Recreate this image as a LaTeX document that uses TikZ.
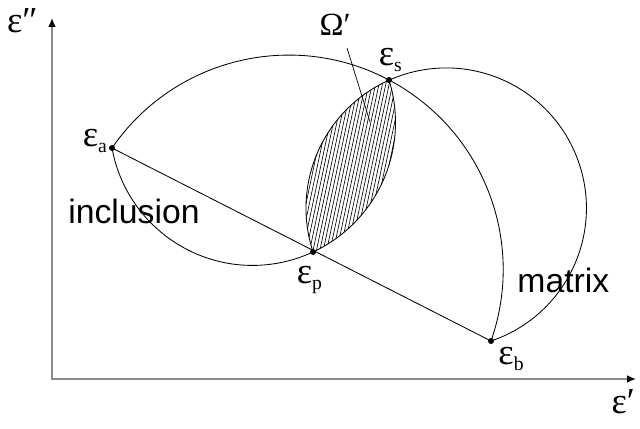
\documentclass[tikz,border=0pt]{standalone}
\usepackage{fontspec}
\setmainfont{Liberation Serif}
\newfontfamily\labelsans{Liberation Sans}
\usetikzlibrary{arrows.meta, positioning, calc}

\newcommand{\epsl}[1]{ε\raisebox{-0.35ex}{\fontsize{14}{14}\selectfont #1}}

\begin{document}
\begin{tikzpicture}[
axis/.style={draw=black!45, line width=1.2pt, {Latex[length=2.2mm, width=1.9mm, color=black]}-{Latex[length=2.2mm, width=1.9mm, color=black]}},
curve/.style={line width=0.6pt},
dot/.style={fill=black},
lbl/.style={inner sep=0pt, font=\fontsize{26}{30}\selectfont},
region/.style={inner sep=0pt, font=\labelsans\fontsize{24}{28}\selectfont},
hatch/.style={line width=0.45pt}
]
\useasboundingbox (0,0) rectangle (16,10.7);

% --- Axes ---
\coordinate (O) at (1.3,1.225);
\coordinate (ytip) at (1.3,10.25);
\coordinate (xtip) at (15.9,1.225);
\draw[axis] (ytip) -- (O) -- (xtip);

% --- Points ---
\coordinate (pa) at (2.8,7.0);
\coordinate (ps) at (9.725,8.7);
\coordinate (pp) at (7.825,4.4);
\coordinate (pb) at (12.275,2.175);

% --- Zone hachuree (Omega') ---
\begin{scope}
\clip (pp) arc[start angle=-64.99, end angle=17.31, radius=3.5725]
           arc[start angle=114.07, end angle=198.24, radius=3.505] -- cycle;
\foreach \k in {0,...,45}
  \draw[hatch] ($(6.5,4.2)+(\k*0.085,0)$) -- ++(78:5);
\end{scope}

% --- Arcs ---
\draw[curve] (pa) arc[start angle=145.47, end angle=-19.44, radius=5.3625];
\draw[curve] (pa) arc[start angle=190.28, end angle=377.31, radius=3.5725];
\draw[curve] (pb) arc[start angle=-71.37, end angle=198.24, radius=3.505];
\draw[curve] (pa) -- (pb);

% --- Repere Omega' ---
\coordinate (otop) at (8.675,9.5);
\coordinate (obot) at (9.25,7.65);
\draw[curve, line width=0.5pt] (otop) -- (obot);
\node[lbl, font=\fontsize{23}{27}\selectfont, above left=0.3cm and -0.1cm of otop] (omega) {Ω′};

% --- Points noirs ---
\foreach \p in {pa,ps,pp,pb}
  \fill[dot] (\p) circle (0.075);

% --- Etiquettes ---
\node[lbl, above left=-0.12cm and 0.12cm of pa] (la) {\epsl{a}};
\node[lbl, above right=0.2cm and -0.26cm of ps] (ls) {\epsl{s}};
\node[lbl, below=0.36cm of pp, xshift=-0.09cm] (lp) {\epsl{p}};
\node[lbl, below right=0.15cm and 0.18cm of pb] (lb) {\epsl{b}};
\node[lbl, left=0.35cm of ytip, yshift=-0.08cm] (ly) {ε″};
\node[lbl, below left=0.26cm and 0.02cm of xtip] (lx) {ε′};

\node[region, anchor=base west] (incl) at (1.7,5.125) {inclusion};
\node[region, anchor=base west] (matr) at (12.93,3.383) {matrix};

\end{tikzpicture}
\end{document}
